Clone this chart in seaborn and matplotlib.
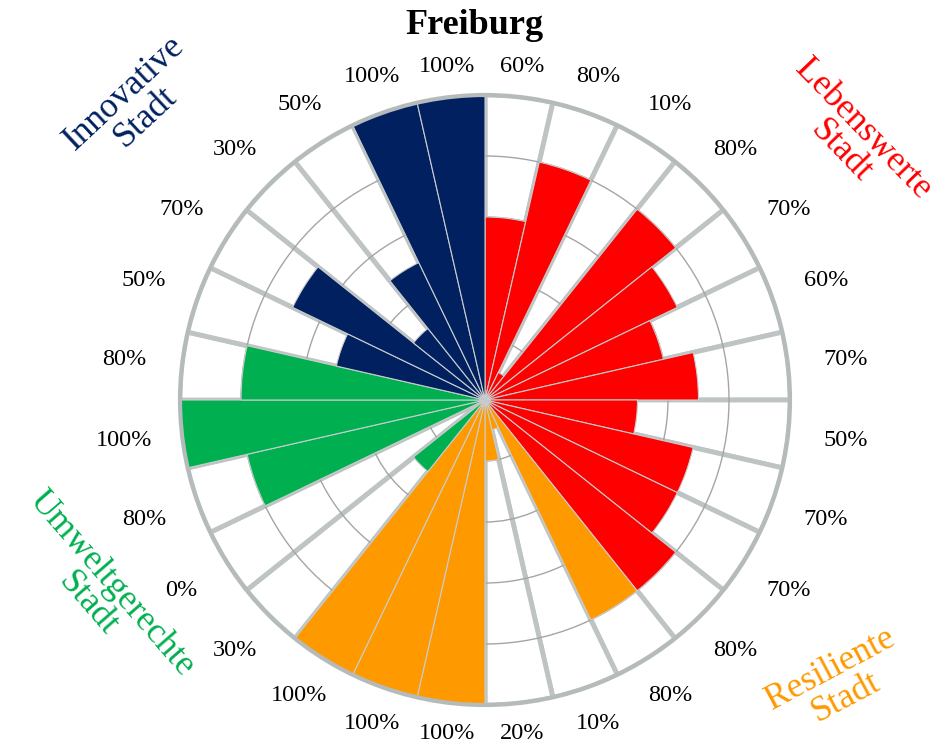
import numpy as np
import pandas as pd
import matplotlib.pyplot as plt
import seaborn as sns

# ==========================================
# DATA (percent, clockwise from the top)
# ==========================================
lebenswerte = [60, 80, 10, 80, 70, 60, 70, 50, 70, 70, 80]
resiliente = [80, 10, 20, 100, 100, 100]
umwelt = [30, 0, 80, 100, 80]
innovativ = [50, 70, 30, 50, 100, 100]

groups = ["Lebenswerte\nStadt", "Resiliente\nStadt", "Umweltgerechte\nStadt", "Innovative\nStadt"]
group_colors = ["#FF0000", "#FF9900", "#00B050", "#002060"]

df = pd.DataFrame({
    "value": lebenswerte + resiliente + umwelt + innovativ,
    "group": [groups[0]] * len(lebenswerte) + [groups[1]] * len(resiliente)
    + [groups[2]] * len(umwelt) + [groups[3]] * len(innovativ),
})

palette = dict(zip(groups, sns.color_palette(group_colors)))

# ==========================================
# STYLE
# ==========================================
sns.set_theme(style="white")
plt.rcParams["font.family"] = ["Liberation Serif", "DejaVu Serif"]

fig = plt.figure(figsize=(9.42, 7.47), dpi=100)
ax = fig.add_axes([180 / 942, 42 / 747, 610 / 942, 610 / 747], projection="polar")
ax.set_theta_zero_location("N")
ax.set_theta_direction(-1)

n = len(df)
width = 2 * np.pi / n
theta = np.arange(n) * width + width / 2

# white background wedges with grey separators
ax.bar(theta, 1.0, width=width, color="white", edgecolor="#BEC3C3", linewidth=3.5, zorder=1)

# coloured bars
ax.bar(theta, df["value"] / 100, width=width,
       color=[palette[g] for g in df["group"]],
       edgecolor="#C9CDCD", linewidth=0.8, zorder=2)

ax.set_ylim(0, 1)
ax.set_xticks([])
ax.set_yticks([0.2, 0.4, 0.6, 0.8])
ax.set_yticklabels([])
ax.yaxis.grid(True, color="#A5A5A5", linewidth=1)
ax.set_axisbelow("line")
ax.spines["polar"].set_color("#B5BBBB")
ax.spines["polar"].set_linewidth(3)

# value labels
for t, v in zip(theta, df["value"]):
    r = 1.09 + 0.10 * abs(np.sin(t))
    ax.text(t, r, f"{v}%", ha="center", va="center", fontsize=17.5, color="black")

# title
fig.text(474 / 942, 1 - 25 / 747, "Freiburg", fontsize=26, fontweight="bold",
         color="black", ha="center", va="center")

# group labels
label_pos = {
    groups[0]: (852, 140, -46),
    groups[1]: (838, 683, 28),
    groups[2]: (100, 594, -49),
    groups[3]: (135, 105, 43),
}
for g, (x, y, rot) in label_pos.items():
    fig.text(x / 942, 1 - y / 747, g, fontsize=25.5, color=palette[g],
             ha="center", va="center", rotation=rot, rotation_mode="anchor",
             multialignment="center", linespacing=0.95)

fig.savefig("out.png", dpi=100)
